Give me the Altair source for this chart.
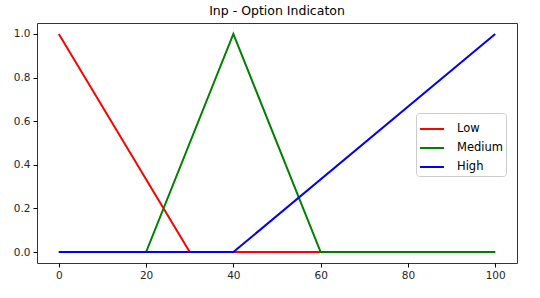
import altair as alt
import pandas as pd

low_x = [0, 30, 100]
low_y = [1, 0, 0]
med_x = [0, 20, 40, 60, 100]
med_y = [0, 0, 1, 0, 0]
high_x = [0, 40, 100]
high_y = [0, 0, 1]
series = ["Low", "Medium", "High"]
colors = ["#ff0000", "#008000", "#0000ff"]

rows = []
for name, xs, ys in [("Low", low_x, low_y), ("Medium", med_x, med_y), ("High", high_x, high_y)]:
    for i, (a, b) in enumerate(zip(xs, ys)):
        rows.append({"s": name, "x": a, "y": b, "i": i})
df = pd.DataFrame(rows)

color = alt.Color(
    "s:N",
    scale=alt.Scale(domain=series, range=colors),
    title=None,
    legend=alt.Legend(
        orient="none", legendX=379, legendY=90,
        symbolType="stroke", symbolSize=576, symbolStrokeWidth=2,
        labelFontSize=11.5, labelFont="DejaVu Sans", labelColor="#000000",
        rowPadding=-4.5, padding=3, cornerRadius=3,
        strokeColor="#cccccc", fillColor="#ffffff",
        labelOffset=12,
    ),
)

x = alt.X("x:Q", scale=alt.Scale(domain=[-5, 105], nice=False, zero=False),
          axis=alt.Axis(values=[0, 20, 40, 60, 80, 100], title=None, grid=False,
                        tickColor="#000", tickSize=4, labelFontSize=10.5,
                        labelColor="#262626", domain=False, labelPadding=3))
y = alt.Y("y:Q", scale=alt.Scale(domain=[-0.05, 1.05], nice=False, zero=False),
          axis=alt.Axis(values=[0, 0.2, 0.4, 0.6, 0.8, 1.0], format=".1f", title=None, grid=False,
                        tickColor="#000", tickSize=4, labelFontSize=10.5,
                        labelColor="#262626", domain=False, labelPadding=3))

layers = []
for name in series:
    layers.append(
        alt.Chart(df).transform_filter(alt.datum.s == name).mark_line(strokeWidth=2, clip=True).encode(
            x=x, y=y, color=color, order="i:Q"
        )
    )

chart = alt.layer(*layers).properties(
    width=480, height=240,
    title=alt.TitleParams("Inp - Option Indicaton", fontSize=12.5, fontWeight="normal",
                          font="DejaVu Sans", color="#000", offset=6),
    autosize=alt.AutoSizeParams(type="none"),
    padding={"left": 37, "top": 23, "right": 23, "bottom": 35},
    background="#ffffff",
).configure(font="DejaVu Sans").configure_view(stroke="#333333", strokeWidth=1)

chart.save("out.html", embed_options={"renderer": "svg", "actions": False})
